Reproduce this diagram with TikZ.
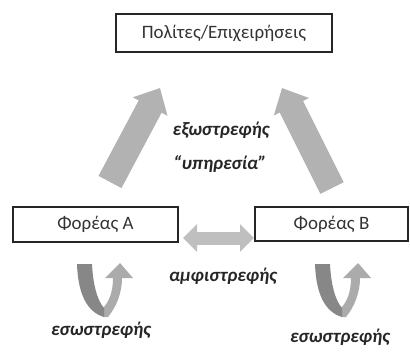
\documentclass[tikz,border=0pt]{standalone}
\usepackage{fontspec}
\setmainfont{Carlito}
\usetikzlibrary{arrows.meta}

\begin{document}
\begin{tikzpicture}[x=1bp,y=-1bp,
  box/.style={draw=black!85,line width=1.2bp,inner sep=0pt,text=black!80,font=\fontsize{19}{22}\selectfont},
  lbl/.style={text=black!85,font=\fontsize{19}{22}\selectfont\bfseries\itshape},
  bigarrow/.style={draw=black!30,line width=26bp,-{Triangle[length=21bp,width=38bp]}},
  botharrow/.style={draw=black!25,line width=13bp,{Triangle[length=14bp,width=27bp]}-{Triangle[length=14bp,width=27bp]}},
  uturn/.pic={
    \fill[black!33] (26,53) -- (31,53) .. controls (40,42) and (45,28) .. (45,14) -- (56,14) -- (43,-1) -- (28,14) -- (36,14) .. controls (36,28) and (32,38) .. (26,44) -- cycle;
    \fill[black!47] (0,0) -- (15,0) .. controls (16,20) and (20,36) .. (27,44) -- (27,53) .. controls (10,48) and (1,30) .. cycle;
  }]
\useasboundingbox (0,0) rectangle (410,352);
\node[box,minimum width=216bp,minimum height=38bp] (pol) at (224,33) {Πολίτες/Επιχειρήσεις};
\node[box,minimum width=165bp,minimum height=35bp] (fa) at (95.5,224.5) {Φορέας A};
\node[box,minimum width=153bp,minimum height=34bp] (fb) at (331.5,224) {Φορέας B};
\coordinate (atail) at (110,182);
\coordinate (atip) at (160,88);
\coordinate (btail) at (332,188);
\coordinate (btip) at (282,88);
\coordinate (mleft) at (183,238);
\coordinate (mright) at (254,238);
\draw[bigarrow] (atail) -- (atip);
\draw[bigarrow] (btail) -- (btip);
\draw[botharrow] (mleft) -- (mright);
\pic at (77,264) {uturn};
\pic at (315,264) {uturn};
\node[lbl] (ex) at (221,130) {εξωστρεφής};
\node[lbl] (yp) at (220,164) {“υπηρεσία”};
\node[lbl] (am) at (223,276) {αμφιστρεφής};
\node[lbl] (esa) at (101,330) {εσωστρεφής};
\node[lbl] (esb) at (340,337) {εσωστρεφής};
\end{tikzpicture}
\end{document}
